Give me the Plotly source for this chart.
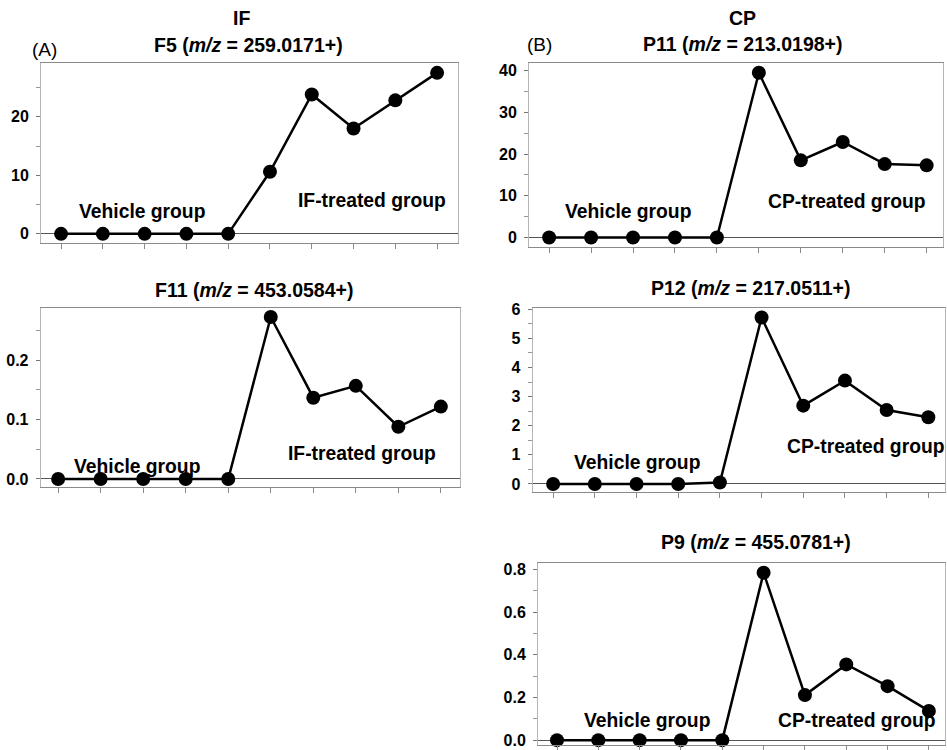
import plotly.graph_objects as go

# ---------------- data ----------------
samples = [1, 2, 3, 4, 5, 6, 7, 8, 9, 10]
F5 = [0, 0, 0, 0, 0, 10.6, 23.8, 18.0, 22.8, 27.5]
F11 = [0, 0, 0, 0, 0, 0.273, 0.137, 0.157, 0.088, 0.122]
P11 = [0, 0, 0, 0, 0, 39.5, 18.5, 22.9, 17.6, 17.3]
P12 = [0, 0, 0, 0, 0.05, 5.72, 2.69, 3.55, 2.54, 2.29]
P9 = [0, 0, 0, 0, 0, 0.784, 0.211, 0.355, 0.253, 0.137]

titles = {
    "F5": "F5 (<i>m/z</i> = 259.0171+)",
    "F11": "F11 (<i>m/z</i> = 453.0584+)",
    "P11": "P11 (<i>m/z</i> = 213.0198+)",
    "P12": "P12 (<i>m/z</i> = 217.0511+)",
    "P9": "P9 (<i>m/z</i> = 455.0781+)",
}

W, H = 947, 750
FONT = "Liberation Sans, Arial, sans-serif"

# vertical calibration of the rendered page (observed = Y0 + SY * design)
Y0, SY = 7.3, 0.9834


def px(x):
    return x / W


def dy(y):
    """target pixel y -> design pixel y"""
    return (y - Y0) / SY


def py(y):
    return max(0.0, min(1.0, 1 - dy(y) / H))


def back(p):
    """paper fraction -> target pixel y"""
    return Y0 + SY * (1 - p) * H


# panel layout: (series, left, right, top, bottom, zero px, px per unit, xrange, dtick, fmt)
panels = [
    ("F5", F5, 41, 458, 63, 243, 234, 5.85, [0.52, 10.5], 10, "d"),
    ("P11", P11, 529, 943, 63, 246.7, 237.7, 4.17, [0.52, 10.39], 10, "d"),
    ("F11", F11, 40.7, 460, 307.7, 487.3, 479, 593, [0.59, 10.45], 0.1, ".1f"),
    ("P12", P12, 532.7, 945, 307.7, 492.3, 484, 29.1, [0.51, 10.4], 1, "d"),
    ("P9", P9, 538, 945, 563.3, 750, 740, 213.3, [0.54, 10.39], 0.2, ".1f"),
]

fig = go.Figure()
layout = dict(
    width=W, height=H, autosize=False,
    margin=dict(l=0, r=0, t=0, b=0, pad=0),
    paper_bgcolor="white", plot_bgcolor="white",
    showlegend=False,
    font=dict(family=FONT, color="black"),
)

for i, (key, vals, l, r, t, b, zpx, ppu, xr, dt, fmt) in enumerate(panels):
    n = "" if i == 0 else str(i + 1)
    d0, d1 = py(b), py(t)
    bot_px, top_px = back(d0), back(d1)
    yr = [(zpx - bot_px) / ppu, (zpx - top_px) / ppu]
    fig.add_trace(go.Scatter(
        x=samples, y=vals, mode="lines+markers",
        line=dict(color="black", width=2.5),
        marker=dict(color="black", size=14),
        xaxis="x" + n, yaxis="y" + n, cliponaxis=False,
    ))
    layout["xaxis" + n] = dict(
        domain=[px(l), px(r)], range=xr, anchor="y" + n,
        showgrid=False, zeroline=False,
        showline=True, linecolor="#8a8a8a", linewidth=1, mirror=True,
        tickmode="array", tickvals=samples, showticklabels=False,
        ticks="outside", ticklen=5, tickcolor="#8a8a8a", tickwidth=1,
    )
    layout["yaxis" + n] = dict(
        domain=[d0, d1], range=yr, anchor="x" + n,
        showgrid=False,
        zeroline=True, zerolinecolor="#555555", zerolinewidth=1,
        showline=True, linecolor="#b5b5b5", linewidth=1, mirror=True,
        dtick=dt, tick0=0, tickformat=fmt,
        ticks="outside", ticklen=4, tickcolor="#777777", tickwidth=1,
        ticklabelstandoff=4,
        minor=dict(ticks="outside", ticklen=4, tickcolor="#999999", dtick=dt / 2, tick0=0),
        tickfont=dict(family=FONT, size=16, color="black", weight="bold"),
    )

annotations = []


def add_text(text, x, y, size, bold=True):
    annotations.append(dict(
        text=("<b>%s</b>" % text) if bold else text,
        x=px(x), y=py(y), xref="paper", yref="paper",
        xanchor="center", yanchor="middle", showarrow=False,
        font=dict(family=FONT, size=size, color="black"),
    ))


# headings
add_text("IF", 241, 18, 19.5)
add_text("CP", 742, 18, 19.5)
add_text("(A)", 44, 50, 19, bold=False)
add_text("(B)", 539, 45, 19, bold=False)
add_text(titles["F5"], 248, 45, 19.5)
add_text(titles["P11"], 743, 44, 19.5)
add_text(titles["F11"], 254, 290, 19.5)
add_text(titles["P12"], 751, 288, 19.5)
add_text(titles["P9"], 756, 542, 19.5)

# group labels
add_text("Vehicle group", 142, 212, 19.3)
add_text("IF-treated group", 372, 201, 19.3)
add_text("Vehicle group", 628, 212, 19.3)
add_text("CP-treated group", 846, 202, 19.3)
add_text("Vehicle group", 137, 467, 19.3)
add_text("IF-treated group", 362, 454, 19.3)
add_text("Vehicle group", 637, 463, 19.3)
add_text("CP-treated group", 865, 447, 19.3)
add_text("Vehicle group", 647, 720, 19.3)
add_text("CP-treated group", 856, 720, 19.3)

layout["annotations"] = annotations
fig.update_layout(**layout)

page_css = (
    "document.documentElement.style.margin='0';"
    "document.documentElement.style.overflow='hidden';"
    "document.body.style.margin='0';"
    "document.body.style.padding='0';"
    "document.body.style.overflow='hidden';"
    "var gd=document.getElementById('{plot_id}');"
    "gd.style.position='fixed';gd.style.top='0px';gd.style.left='0px';"
)
fig.write_html("out.html", post_script=page_css,
               config={"displayModeBar": False, "responsive": False})
